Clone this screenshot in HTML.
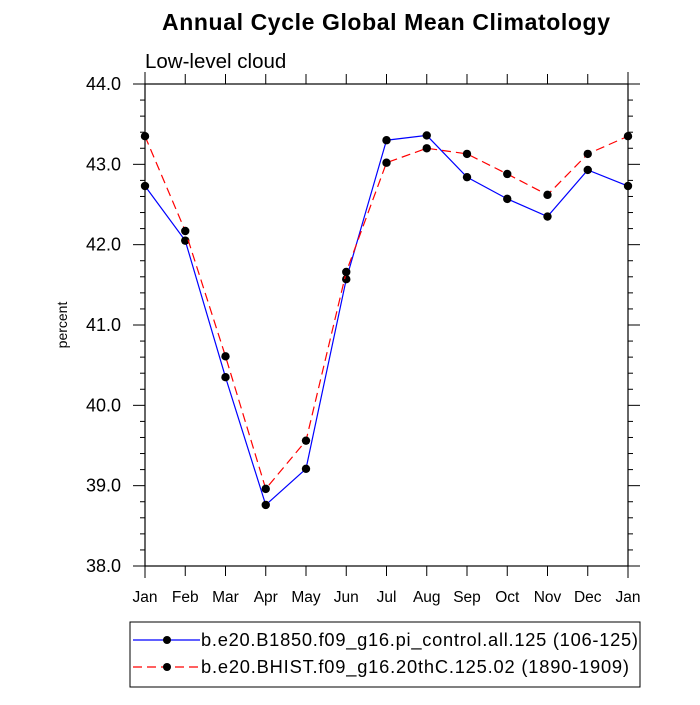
<!DOCTYPE html>
<html><head><meta charset="utf-8"><style>
body{margin:0;background:#fff;font-family:"Liberation Sans",sans-serif}
svg text{font-family:"Liberation Sans",sans-serif}
</style></head><body>
<svg id="c" width="700" height="700" xmlns="http://www.w3.org/2000/svg">
<text x="386" y="30" text-anchor="middle" font-size="23" font-weight="bold" textLength="448">Annual Cycle Global Mean Climatology</text>
<text x="145" y="68" font-size="20.5">Low-level cloud</text>
<text x="0" y="0" transform="translate(67,325) rotate(-90)" text-anchor="middle" font-size="14">percent</text>
<g id="axes"></g>
<g id="series"></g>
<g>
<rect x="130" y="622" width="510" height="65" fill="none" stroke="#000" stroke-width="1"/>
<line x1="133" y1="640" x2="200" y2="640" stroke="#0000ff" stroke-width="1.2"/>
<circle cx="167" cy="640" r="4" fill="#000"/>
<text x="201" y="646" font-size="18.3" textLength="437">b.e20.B1850.f09_g16.pi_control.all.125 (106-125)</text>
<line x1="133" y1="667" x2="200" y2="667" stroke="#ff0000" stroke-width="1.2" stroke-dasharray="9,5"/>
<circle cx="167" cy="667" r="4" fill="#000"/>
<text x="201" y="673" font-size="18.3" textLength="428">b.e20.BHIST.f09_g16.20thC.125.02 (1890-1909)</text>
</g>
</svg>
<script>
const months=["Jan","Feb","Mar","Apr","May","Jun","Jul","Aug","Sep","Oct","Nov","Dec","Jan"];
const yTicks=[38,39,40,41,42,43,44];
const seriesB1850=[42.73,42.05,40.35,38.76,39.21,41.57,43.30,43.36,42.84,42.57,42.35,42.93,42.73];
const seriesBHIST=[43.35,42.17,40.61,38.96,39.56,41.66,43.02,43.20,43.13,42.88,42.62,43.13,43.35];
const NS="http://www.w3.org/2000/svg";
const L=145,R=628,T=84,B=566,ymin=38,ymax=44;
const xs=i=>L+(R-L)*i/(months.length-1);
const ys=v=>B-(B-T)*(v-ymin)/(ymax-ymin);
function mk(t,a,p){const e=document.createElementNS(NS,t);for(const k in a)e.setAttribute(k,a[k]);p.appendChild(e);return e;}
const ax=document.getElementById('axes');
const fr=mk('rect',{x:L,y:T,width:R-L,height:B-T,fill:'none',stroke:'#000','stroke-width':1.2},ax);


months.forEach((m,i)=>{
 const x=xs(i);
 const len=(i==0||i==12)?12:10;
 mk('line',{x1:x,y1:B,x2:x,y2:B+len,stroke:'#000'},ax);
 mk('line',{x1:x,y1:T,x2:x,y2:T-len,stroke:'#000'},ax);
 const t=mk('text',{x:x,y:B+36,'text-anchor':'middle','font-size':15.5},ax);
 t.textContent=m;
 
 
});
for(let v=ymin;v<=ymax+1e-9;v+=0.2){
 const y=ys(v);const major=Math.abs(v-Math.round(v))<1e-6;const len=major?12:5;
 mk('line',{x1:L,y1:y,x2:L-len,y2:y,stroke:'#000'},ax);
 mk('line',{x1:R,y1:y,x2:R+len,y2:y,stroke:'#000'},ax);
}
yTicks.forEach(v=>{
 const t=mk('text',{x:L-24,y:ys(v)+6,'text-anchor':'end','font-size':18},ax);
 t.textContent=v.toFixed(1);
 
 
});
const sg=document.getElementById('series');
function draw(vals,color,dash,name){
 const pts=vals.map((v,i)=>xs(i)+','+ys(v)).join(' ');
 const pl=mk('polyline',{points:pts,fill:'none',stroke:color,'stroke-width':1.2},sg);
 if(dash)pl.setAttribute('stroke-dasharray',dash);
 
 
 vals.forEach((v,i)=>{
  const c=mk('circle',{cx:xs(i),cy:ys(v),r:4.2,fill:'#000'},sg);
  
  
 });
}
draw(seriesB1850,'#0000ff',null,'b1850');
draw(seriesBHIST,'#ff0000','9,5','bhist');
</script>
</body></html>
